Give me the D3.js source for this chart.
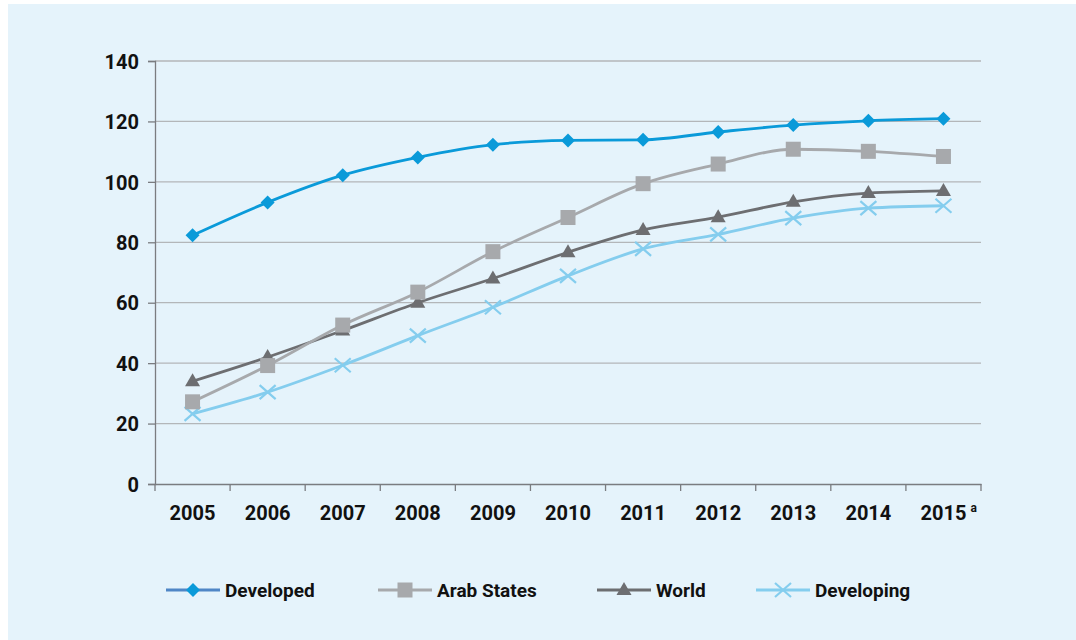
<!DOCTYPE html>
<html><head><meta charset="utf-8">
<script src="https://cdn.jsdelivr.net/npm/d3@7"></script>
<style>body{margin:0;background:#fff}svg{display:block}text{font-family:Roboto,"DejaVu Sans",sans-serif;font-weight:700;fill:#111}</style>
</head><body><svg id="c" width="1076" height="640"></svg>
<script>
const years = ["2005","2006","2007","2008","2009","2010","2011","2012","2013","2014","2015"];
const developed = [82.3,93.2,102.2,108.1,112.3,113.7,113.9,116.5,118.8,120.2,120.9];
const arabStates = [27.2,39.2,52.6,63.5,76.9,88.2,99.4,105.9,110.8,110.1,108.4];
const world = [34.0,42.0,50.8,60.0,68.0,76.7,84.1,88.3,93.4,96.3,97.0];
const developing = [23.2,30.4,39.3,49.1,58.5,68.9,77.8,82.6,88.0,91.3,92.1];
const yTicks = [0,20,40,60,80,100,120,140];
const seriesNames = ["Developed","Arab States","World","Developing"];

const svg = d3.select("#c");
svg.append("rect").attr("x",8).attr("y",4).attr("width",1068).attr("height",636).attr("fill","#e5f3fb");

const x = d3.scaleBand().domain(years).range([155,981]);
const y = d3.scaleLinear().domain([0,140]).range([484,61]);

svg.append("g").selectAll("line").data(yTicks.slice(1)).join("line")
  .attr("x1",155).attr("x2",981).attr("y1",d=>y(d)).attr("y2",d=>y(d))
  .attr("stroke","#b3b6b9").attr("stroke-width",1.3);

const ya = svg.append("g").attr("transform","translate(155,0)")
  .call(d3.axisLeft(y).tickValues(yTicks).tickSize(7).tickPadding(9));
ya.select(".domain").attr("stroke","#7a7c80").attr("stroke-width",1.3);
ya.selectAll(".tick line").attr("stroke","#7a7c80").attr("stroke-width",1.3);
ya.selectAll("text").style("font-size","20px").attr("fill","#111").attr("dy","0.36em");

const xa = svg.append("g").attr("transform","translate(0,484)")
  .call(d3.axisBottom(x).tickSize(0).tickPadding(22).tickSizeOuter(0));
xa.select(".domain").attr("stroke","#7a7c80").attr("stroke-width",1.3);
xa.selectAll("text").style("font-size","20px").attr("fill","#111");
const bounds = years.map(d=>x(d)).concat([981]);
svg.append("g").selectAll("line").data(bounds).join("line")
  .attr("x1",d=>d).attr("x2",d=>d).attr("y1",484).attr("y2",491)
  .attr("stroke","#7a7c80").attr("stroke-width",1.3);
const lastLbl = xa.selectAll(".tick text").filter(d=>d==="2015").node();
const bb = lastLbl.getBBox();
const tr = lastLbl.parentNode.getAttribute("transform").match(/translate\(([\d.]+)/);
svg.append("text").attr("x",+tr[1]+bb.x+bb.width+4).attr("y",512)
  .style("font-size","12px").text("a");

const cx = d => x(d)+x.bandwidth()/2;
const series = [
  {name:"Developed", vals:developed, color:"#0a9ad9", mk:"diamond"},
  {name:"Arab States", vals:arabStates, color:"#a7a9ac", mk:"square"},
  {name:"World", vals:world, color:"#6d6e71", mk:"triangle"},
  {name:"Developing", vals:developing, color:"#84cdee", mk:"cross"}
];
const line = d3.line().curve(d3.curveMonotoneX);

function marker(g, type, px, py, color){
  if(type==="diamond"){
    g.append("path").attr("d",`M${px},${py-7}L${px+7},${py}L${px},${py+7}L${px-7},${py}Z`).attr("fill",color);
  } else if(type==="square"){
    g.append("rect").attr("x",px-7.5).attr("y",py-7.5).attr("width",15).attr("height",15).attr("fill",color);
  } else if(type==="triangle"){
    g.append("path").attr("d",`M${px},${py-8}L${px+7.5},${py+5}L${px-7.5},${py+5}Z`).attr("fill",color);
  } else {
    g.append("path").attr("d",`M${px-8},${py-7}L${px+8},${py+7}M${px-8},${py+7}L${px+8},${py-7}`)
      .attr("stroke",color).attr("stroke-width",2.2).attr("fill","none");
  }
}

series.slice().reverse().forEach(s=>{
  const g = svg.append("g");
  const pts = years.map((yr,i)=>[cx(yr), y(s.vals[i])]);
  g.append("path").attr("d",line(pts)).attr("fill","none").attr("stroke",s.color).attr("stroke-width",2.8);
  pts.forEach(p=>marker(g,s.mk,p[0],p[1],s.color));
});

const legX = [166,378,597,756];
series.forEach((s,i)=>{
  const g = svg.append("g");
  const x0 = legX[i], ly = 590;
  g.append("line").attr("x1",x0).attr("x2",x0+54).attr("y1",ly).attr("y2",ly)
    .attr("stroke",i===0?"#4f86c6":s.color).attr("stroke-width",2.8);
  marker(g,s.mk,x0+27,ly,s.color);
  g.append("text").attr("x",x0+59).attr("y",ly).attr("dy","0.36em").style("font-size","19px").text(seriesNames[i]);
});
</script></body></html>
